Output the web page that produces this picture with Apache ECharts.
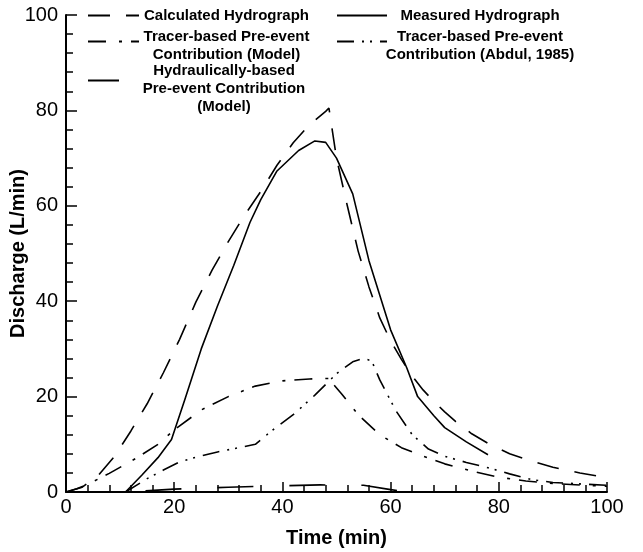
<!DOCTYPE html>
<html>
<head>
<meta charset="utf-8">
<script src="https://cdn.jsdelivr.net/npm/echarts@6/dist/echarts.min.js"></script>
<style>
html,body{margin:0;padding:0;background:#fff;}
#chart{width:643px;height:552px;}
</style>
</head>
<body>
<div id="chart"></div>
<script>
// ---- data (Time in min, Discharge in L/min) ----
var xTicks = [0, 20, 40, 60, 80, 100];
var yTicks = [0, 20, 40, 60, 80, 100];

var calcT = [0, 3, 6, 9, 12, 15, 18, 21, 24, 27, 30, 33, 36, 39, 42, 45, 48, 48.6, 50, 52, 54, 56, 58, 60, 62, 64, 66, 68, 70, 72, 75, 78, 82, 86, 90, 95, 100];
var calcV = [0, 1, 3.5, 7.5, 12.8, 18.5, 25, 32, 39.8, 46.5, 52.5, 58, 63, 68.5, 73.2, 77, 79.8, 80.5, 70, 60, 50.5, 43, 36.5, 31.7, 27.8, 24.3, 21.4, 19, 16.8, 14.8, 12.2, 10.2, 8, 6.5, 5.2, 4, 3];

var measT = [11, 14, 17, 19.5, 22, 25, 28, 31, 34, 36, 39, 43, 46, 48, 50, 53, 56, 60, 63, 65, 68, 70, 74, 78];
var measV = [0, 3.5, 7.2, 11, 19.5, 30, 39, 47.5, 56.5, 61.3, 67.3, 71.6, 73.6, 73.3, 70, 62.5, 48.5, 34, 26, 20, 16, 13.5, 10.5, 7.8];

var trModT = [0, 2, 4, 8, 13, 17, 20, 25, 30, 35, 40, 45, 48.5, 51, 54, 58, 62, 66, 70, 75, 80, 85, 90, 96, 100];
var trModV = [0, 0.7, 1.6, 3.9, 7.1, 10, 13, 17.2, 20, 22.2, 23.3, 23.7, 23.8, 20.5, 16.2, 12, 9.3, 7.5, 5.9, 4.4, 3.1, 2.3, 1.8, 1.4, 1.2];

var trAbdT = [11, 15, 18, 21, 24, 28, 32, 35, 38, 42, 46, 50, 53, 55, 56.5, 58, 61, 64, 67, 70, 74, 78, 82, 86, 90, 95, 100];
var trAbdV = [0, 2.8, 4.6, 6.3, 7.3, 8.4, 9.3, 10, 12.8, 16.2, 20.3, 24.8, 27.3, 28, 27.5, 23.5, 17, 12, 9, 7.5, 6.2, 5.1, 3.8, 2.6, 2, 1.7, 1.4];

var hydT = [11, 20, 30, 40, 47, 50, 55, 60, 63, 80];
var hydV = [0, 0.6, 1.0, 1.3, 1.5, 1.4, 1.4, 0.5, 0, 0];

var names = [
  'Calculated Hydrograph',
  'Measured Hydrograph',
  'Tracer-based Pre-event\nContribution (Model)',
  'Tracer-based Pre-event\nContribution (Abdul, 1985)',
  'Hydraulically-based\nPre-event Contribution\n(Model)'
];

function zip(t, v) { return t.map(function (x, i) { return [x, v[i]]; }); }

var FONT = 'Liberation Sans, Arial, Helvetica, sans-serif';

function mkLine(name, t, v, dash, offset) {
  return {
    name: name, type: 'line', data: zip(t, v), symbol: 'none', smooth: false,
    lineStyle: { color: '#000', width: 1.6, type: dash, dashOffset: offset || 0 },
    itemStyle: { color: '#000' },
    animation: false
  };
}

function mkLegend(name, left, top, itemWidth, textWidth, padTop) {
  return {
    data: [name], left: left, top: top, padding: 0, itemWidth: itemWidth, itemHeight: 10,
    itemGap: 0, selectedMode: false, orient: 'vertical',
    itemStyle: { color: 'rgba(0,0,0,0)', borderColor: 'rgba(0,0,0,0)', borderWidth: 0 },
    lineStyle: { dashOffset: 0 },
    formatter: function (n) { return n.split('\n').map(function (s) { return '{c|' + s + '}'; }).join('\n'); },
    textStyle: {
      padding: [padTop, 0, 0, 0],
      rich: { c: { width: textWidth, align: 'center', fontFamily: FONT, fontWeight: 'bold', fontSize: 15, lineHeight: 18, color: '#000' } }
    }
  };
}

var chart = echarts.init(document.getElementById('chart'), null, { renderer: 'canvas' });
chart.setOption({
  backgroundColor: '#fff',
  animation: false,
  grid: { left: 66, right: 36, top: 15, bottom: 60, containLabel: false, outerBoundsMode: 'none' },
  legend: [
    mkLegend(names[0], 87, 8, 51, 165, 0),
    mkLegend(names[1], 336, 8, 50, 176, 0),
    mkLegend(names[2], 87, 29, 51, 165, 8),
    mkLegend(names[3], 336, 29, 50, 176, 8),
    mkLegend(names[4], 87, 63, 31, 200, 16)
  ],
  xAxis: {
    type: 'value', min: xTicks[0], max: xTicks[xTicks.length - 1], interval: 20,
    name: 'Time (min)', nameLocation: 'middle', nameGap: 36,
    nameTextStyle: { fontFamily: FONT, fontWeight: 'bold', fontSize: 20, color: '#000' },
    axisLine: { show: true, lineStyle: { color: '#000', width: 2 } },
    axisTick: { show: true, inside: true, length: 10, lineStyle: { color: '#000', width: 1.5 } },
    minorTick: { show: true, splitNumber: 5, length: 7, lineStyle: { color: '#000', width: 1.5 } },
    axisLabel: { fontFamily: FONT, fontSize: 20, color: '#000', margin: 5 },
    splitLine: { show: false }
  },
  yAxis: {
    type: 'value', min: yTicks[0], max: yTicks[yTicks.length - 1], interval: 20,
    name: 'Discharge (L/min)', nameLocation: 'middle', nameGap: 38, nameMoveOverlap: false,
    nameTextStyle: { fontFamily: FONT, fontWeight: 'bold', fontSize: 20, color: '#000' },
    axisLine: { show: true, lineStyle: { color: '#000', width: 2 } },
    axisTick: { show: true, inside: true, length: 11, lineStyle: { color: '#000', width: 1.5 } },
    minorTick: { show: true, splitNumber: 5, length: 7, lineStyle: { color: '#000', width: 1.5 } },
    axisLabel: { fontFamily: FONT, fontSize: 20, color: '#000', margin: 8 },
    splitLine: { show: false }
  },
  series: [
    mkLine(names[0], calcT, calcV, [22, 16]),
    mkLine(names[1], measT, measV, 'solid'),
    mkLine(names[2], trModT, trModV, [18, 13, 3, 9]),
    mkLine(names[3], trAbdT, trAbdV, [17, 8, 2, 6, 2, 8]),
    mkLine(names[4], hydT, hydV, [36, 36], 52)
  ]
});
</script>
</body>
</html>
